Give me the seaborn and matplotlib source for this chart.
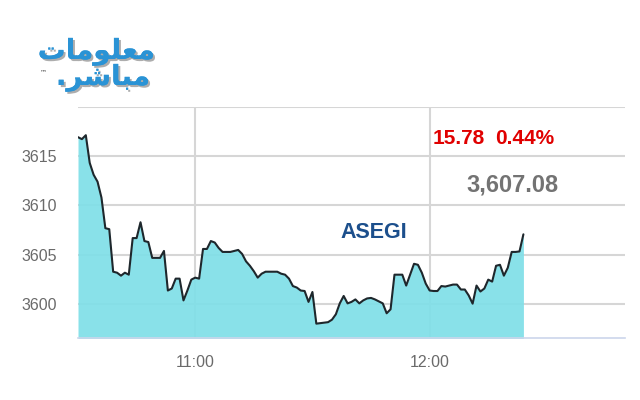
import matplotlib
matplotlib.use("Agg")
import matplotlib.pyplot as plt
import matplotlib.dates as mdates
from matplotlib import patheffects as pe
import seaborn as sns
import pandas as pd

# ASEGI intraday, one value per minute from 10:30
start_time = "10:30"
index_values = [
    3616.9, 3616.7, 3617.1, 3614.3, 3613.1, 3612.4, 3610.8, 3607.7, 3607.6, 3603.3,
    3603.2, 3602.9, 3603.2, 3603.0, 3606.7, 3606.7, 3608.3, 3606.4, 3606.3, 3604.7,
    3604.7, 3604.7, 3605.4, 3601.4, 3601.6, 3602.6, 3602.6, 3600.4, 3601.4, 3602.5,
    3602.7, 3602.6, 3605.6, 3605.6, 3606.4, 3606.25, 3605.7, 3605.3, 3605.3, 3605.3,
    3605.4, 3605.5, 3605.1, 3604.35, 3603.9, 3603.35, 3602.7, 3603.1, 3603.3, 3603.3,
    3603.3, 3603.3, 3603.1, 3603.0, 3602.6, 3601.85, 3601.7, 3601.4, 3601.35, 3600.25,
    3601.25, 3598.05, 3598.1, 3598.15, 3598.2, 3598.45, 3599.0, 3600.1, 3600.85, 3600.1,
    3600.25, 3600.5, 3600.1, 3600.4, 3600.6, 3600.65, 3600.5, 3600.3, 3600.1, 3599.1,
    3599.5, 3603.0, 3603.0, 3603.0, 3601.9, 3603.0, 3604.1, 3604.0, 3603.2, 3602.1,
    3601.4, 3601.35, 3601.35, 3601.85, 3601.8, 3601.9, 3602.0, 3602.0, 3601.5, 3601.5,
    3600.9, 3600.07, 3601.9, 3601.3, 3601.6, 3602.5, 3602.3, 3603.9, 3604.0, 3602.9,
    3603.7, 3605.3, 3605.3, 3605.35, 3607.08,
]
y_ticks = [3600, 3605, 3610, 3615, 3620]
y_tick_labels = ["3600", "3605", "3610", "3615", ""]
x_ticks = ["11:00", "12:00"]
x_end = "12:50"

index_name = "ASEGI"
last_value = "3,607.08"
change_points = "15.78"
change_pct = "0.44%"

# logo words, pre-shaped arabic (presentation forms, visual order)
logo_top = "\uFE95\uFE8E\uFEE3\uFEEE\uFEE0\uFECC\uFEE3"   # معلومات
logo_bottom = ".\uFEAE\uFEB7\uFE8E\uFE92\uFEE3"          # مباشر.

day = "2020-01-01 "
times = pd.date_range(day + start_time, periods=len(index_values), freq="min")
df = pd.DataFrame({"time": times, "value": index_values})

sns.set_style("white")
font = ["Liberation Sans", "DejaVu Sans"]

fig = plt.figure(figsize=(6.4, 4.0), dpi=100)
ax = fig.add_axes([78 / 640, 1 - 338 / 400, (625 - 78) / 640, (338 - 106.5) / 400])

ax.fill_between(df["time"], df["value"], 3590, color="#7fdfe8", alpha=0.92,
                linewidth=0, zorder=2)
sns.lineplot(data=df, x="time", y="value", ax=ax, color="#1e272c",
             linewidth=1.5, zorder=3)

ax.set_ylim(3596.6, 3620)
ax.set_xlim(pd.Timestamp(day + start_time), pd.Timestamp(day + x_end))
ax.set_yticks(y_ticks)
ax.set_yticklabels(y_tick_labels)
ax.set_xticks([pd.Timestamp(day + t) for t in x_ticks])
ax.xaxis.set_major_formatter(mdates.DateFormatter("%H:%M"))

ax.grid(True, axis="both", color="#d6d6d6", linewidth=1.5, zorder=1)
ax.set_axisbelow(True)
for s in ["top", "left", "right"]:
    ax.spines[s].set_visible(False)
ax.spines["bottom"].set_color("#ccd6eb")
ax.spines["bottom"].set_linewidth(1.2)
ax.tick_params(axis="both", length=0, colors="#6a6a6a", labelsize=11.5)
ax.tick_params(axis="y", pad=15)
ax.tick_params(axis="x", pad=12)
for lab in ax.get_xticklabels() + ax.get_yticklabels():
    lab.set_family(font)
ax.set_xlabel("")
ax.set_ylabel("")

# headline numbers
fig.text(459 / 640, 1 - 138 / 400, change_points, color="#e00000", fontsize=15,
         fontweight="bold", family=font, ha="center", va="center")
fig.text(525 / 640, 1 - 138 / 400, change_pct, color="#e00000", fontsize=15,
         fontweight="bold", family=font, ha="center", va="center")
fig.text(512 / 640, 1 - 185 / 400, last_value, color="#737373", fontsize=17,
         fontweight="bold", family=font, ha="center", va="center")
fig.text(374 / 640, 1 - 233 / 400, index_name, color="#1c4f8c", fontsize=15.5,
         fontweight="bold", family=font, ha="center", va="center")

# logo
shadow = [pe.withSimplePatchShadow(offset=(1.5, -1.5), shadow_rgbFace="#8a8a8a", alpha=0.7),
          pe.Normal()]
fig.text(155 / 640, 1 - 52 / 400, logo_top, color="#2a93d5", fontsize=20,
         fontweight="bold", family="DejaVu Sans", ha="right", va="center",
         path_effects=shadow)
fig.text(150 / 640, 1 - 78 / 400, logo_bottom, color="#2a93d5", fontsize=20,
         fontweight="bold", family="DejaVu Sans", ha="right", va="center",
         path_effects=shadow)
fig.text(40 / 640, 1 - 72 / 400, "\u2122", color="#444444", fontsize=5,
         family="DejaVu Sans", ha="left", va="center")

fig.savefig("out.png", dpi=100)
